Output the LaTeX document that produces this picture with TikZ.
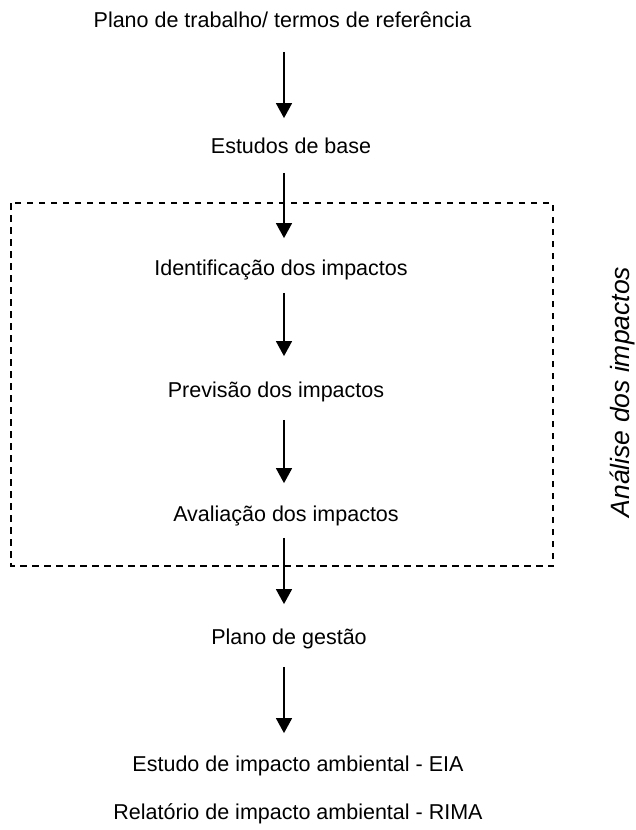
\documentclass[tikz,border=0pt]{standalone}
\usepackage{fontspec}
\setmainfont{Liberation Sans}
\usetikzlibrary{arrows.meta}
\begin{document}
\begin{tikzpicture}[x=1pt,y=-1pt,
  txt/.style={font=\fontsize{21.5}{26}\selectfont, inner sep=0pt, text height=15.4pt, text depth=4pt},
  flow/.style={line width=1.5pt, -{Triangle[width=16pt,length=15pt]}},
  frame/.style={line width=1.3pt, dash pattern=on 6.5pt off 5.5pt}]
\useasboundingbox (0,0) rectangle (636,830);
\node[txt] (plano) at (282.5,22) {Plano de trabalho/ termos de referência};
\node[txt] (base) at (291,148) {Estudos de base};
\node[txt] (ident) at (281,270) {Identificação dos impactos};
\node[txt] (prev) at (276,392) {Previsão dos impactos};
\node[txt] (aval) at (286,516) {Avaliação dos impactos};
\node[txt] (gest) at (289,639) {Plano de gestão};
\node[txt] (eia) at (298,766) {Estudo de impacto ambiental - EIA};
\node[txt] (rima) at (298,814) {Relatório de impacto ambiental - RIMA};
\node[font=\fontsize{26.5}{32}\selectfont\itshape, inner sep=0pt, rotate=90, anchor=base] (analise) at (629,392) {Análise dos impactos};
\draw[frame] (11,203) rectangle (553,566);
\draw[flow, shorten <=20pt, shorten >=20pt] (plano.south -| 284,0) -- (base.north -| 284,0);
\draw[flow, shorten <=15pt, shorten >=22pt] (base.south -| 284,0) -- (ident.north -| 284,0);
\draw[flow, shorten <=13pt, shorten >=26pt] (ident.south -| 284,0) -- (prev.north -| 284,0);
\draw[flow, shorten <=18pt, shorten >=23pt] (prev.south -| 284,0) -- (aval.north -| 284,0);
\draw[flow, shorten <=12pt, shorten >=25pt] (aval.south -| 284,0) -- (gest.north -| 284,0);
\draw[flow, shorten <=18pt, shorten >=23pt] (gest.south -| 284,0) -- (eia.north -| 284,0);
\end{tikzpicture}
\end{document}
